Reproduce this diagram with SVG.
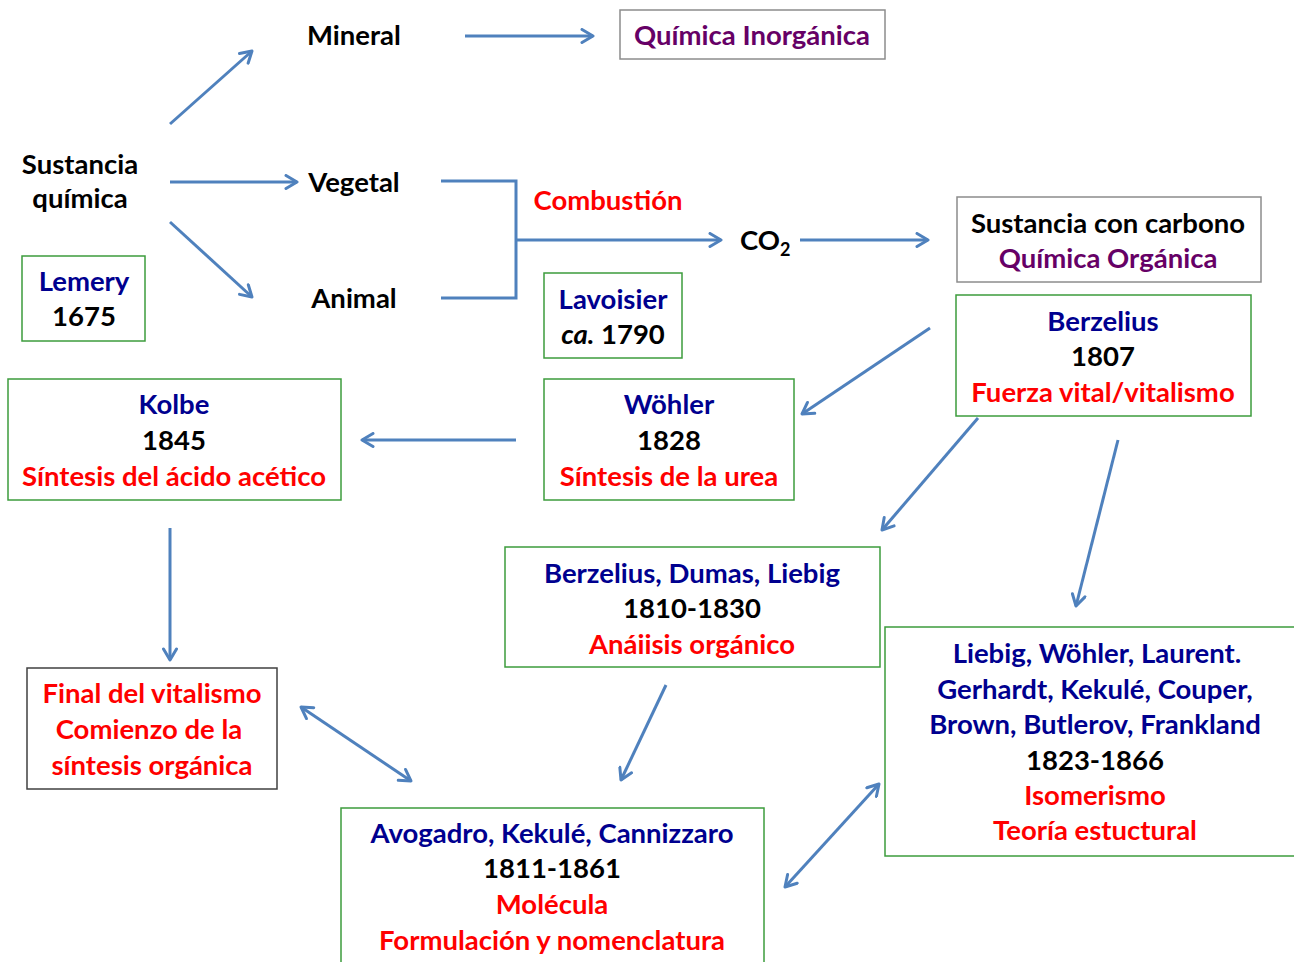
<svg xmlns="http://www.w3.org/2000/svg" width="1294" height="962" viewBox="0 0 1294 962">
<style>
text{font-family:Lato,"Open Sans","Liberation Sans",sans-serif;font-weight:bold;font-size:27.5px;text-anchor:middle;fill:#000}
.nv{fill:#00008f}
.rd{fill:#ff0000}
.pu{fill:#660066}
.gb{fill:#fff;stroke:#3c9c3c;stroke-width:1.5}
.gr{fill:#fff;stroke:#8c8c8c;stroke-width:1.5}
.bk{fill:#fff;stroke:#404040;stroke-width:1.5}
.c{fill:none;stroke:#4f81bd;stroke-width:3}
.a{marker-end:url(#ah)}
.d{marker-start:url(#ah);marker-end:url(#ah)}
</style>
<defs>
<marker id="ah" viewBox="0 0 16 16" refX="14" refY="8" markerWidth="16" markerHeight="16" markerUnits="userSpaceOnUse" orient="auto-start-reverse">
<path d="M3,1.5 L14,8 L3,14.5" fill="none" stroke="#4f81bd" stroke-width="3" stroke-linejoin="round" stroke-linecap="round"/>
</marker>
</defs>
<rect width="1294" height="962" fill="#fff"/>
<g id="connectors">
<line class="c a" x1="170" y1="124" x2="252" y2="51"/>
<line class="c a" x1="170" y1="182" x2="297" y2="182"/>
<line class="c a" x1="170" y1="222" x2="252" y2="297"/>
<line class="c a" x1="465" y1="36" x2="593" y2="36"/>
<polyline class="c" points="441,181 516,181 516,298 441,298"/>
<line class="c a" x1="516" y1="240" x2="721" y2="240"/>
<line class="c a" x1="800" y1="240" x2="928" y2="240"/>
<line class="c a" x1="930" y1="328" x2="802" y2="414"/>
<line class="c a" x1="516" y1="440" x2="362" y2="440"/>
<line class="c a" x1="978" y1="418" x2="882" y2="530"/>
<line class="c a" x1="1118" y1="440" x2="1076" y2="606"/>
<line class="c a" x1="170" y1="528" x2="170" y2="660"/>
<line class="c d" x1="301" y1="707" x2="411" y2="781"/>
<line class="c a" x1="666" y1="685" x2="621" y2="780"/>
<line class="c d" x1="785" y1="887" x2="879" y2="784"/>
</g>
<g id="sustancia">
<text x="80" y="174">Sustancia</text>
<text x="80" y="208">química</text>
</g>
<g id="mineral"><text x="354" y="45">Mineral</text></g>
<g id="vegetal"><text x="354" y="192">Vegetal</text></g>
<g id="animal"><text x="354" y="308">Animal</text></g>
<g id="quimica-inorganica">
<rect class="gr" x="620" y="10" width="265" height="49"/>
<text class="pu" x="752" y="45">Química Inorgánica</text>
</g>
<g id="lemery">
<rect class="gb" x="22" y="256" width="123" height="85"/>
<text class="nv" x="84" y="291">Lemery</text>
<text x="84" y="326">1675</text>
</g>
<g id="combustion"><text class="rd" x="608" y="210">Combustión</text></g>
<g id="co2"><text x="740" y="250" style="text-anchor:start">CO<tspan font-size="18" dy="6">2</tspan></text></g>
<g id="lavoisier">
<rect class="gb" x="544" y="273" width="138" height="85"/>
<text class="nv" x="613" y="309">Lavoisier</text>
<text x="613" y="344"><tspan font-style="italic">ca.</tspan> 1790</text>
</g>
<g id="sustancia-carbono">
<rect class="gr" x="957" y="197" width="304" height="85"/>
<text x="1108" y="233">Sustancia con carbono</text>
<text class="pu" x="1108" y="268">Química Orgánica</text>
</g>
<g id="berzelius">
<rect class="gb" x="956" y="295" width="295" height="121"/>
<text class="nv" x="1103" y="331">Berzelius</text>
<text x="1103" y="366">1807</text>
<text class="rd" x="1103" y="402">Fuerza vital/vitalismo</text>
</g>
<g id="wohler">
<rect class="gb" x="544" y="379" width="250" height="121"/>
<text class="nv" x="669" y="414">Wöhler</text>
<text x="669" y="450">1828</text>
<text class="rd" x="669" y="486">Síntesis de la urea</text>
</g>
<g id="kolbe">
<rect class="gb" x="8" y="379" width="333" height="121"/>
<text class="nv" x="174" y="414">Kolbe</text>
<text x="174" y="450">1845</text>
<text class="rd" x="174" y="486">Síntesis del ácido acético</text>
</g>
<g id="berzelius-dumas-liebig">
<rect class="gb" x="505" y="547" width="375" height="120"/>
<text class="nv" x="692" y="583">Berzelius, Dumas, Liebig</text>
<text x="692" y="618">1810-1830</text>
<text class="rd" x="692" y="654">Anáiisis orgánico</text>
</g>
<g id="liebig-wohler-laurent">
<rect class="gb" x="885" y="627" width="420" height="229"/>
<text class="nv" x="1097" y="663">Liebig, Wöhler, Laurent.</text>
<text class="nv" x="1095" y="699">Gerhardt, Kekulé, Couper,</text>
<text class="nv" x="1095" y="734">Brown, Butlerov, Frankland</text>
<text x="1095" y="770">1823-1866</text>
<text class="rd" x="1095" y="805">Isomerismo</text>
<text class="rd" x="1095" y="840">Teoría estuctural</text>
</g>
<g id="final-vitalismo">
<rect class="bk" x="27" y="668" width="250" height="121"/>
<text class="rd" x="152" y="703">Final del vitalismo</text>
<text class="rd" x="149" y="739">Comienzo de la</text>
<text class="rd" x="152" y="775">síntesis orgánica</text>
</g>
<g id="avogadro">
<rect class="gb" x="341" y="808" width="423" height="170"/>
<text class="nv" x="552" y="843">Avogadro, Kekulé, Cannizzaro</text>
<text x="552" y="878">1811-1861</text>
<text class="rd" x="552" y="914">Molécula</text>
<text class="rd" x="552" y="950">Formulación y nomenclatura</text>
</g>
</svg>
